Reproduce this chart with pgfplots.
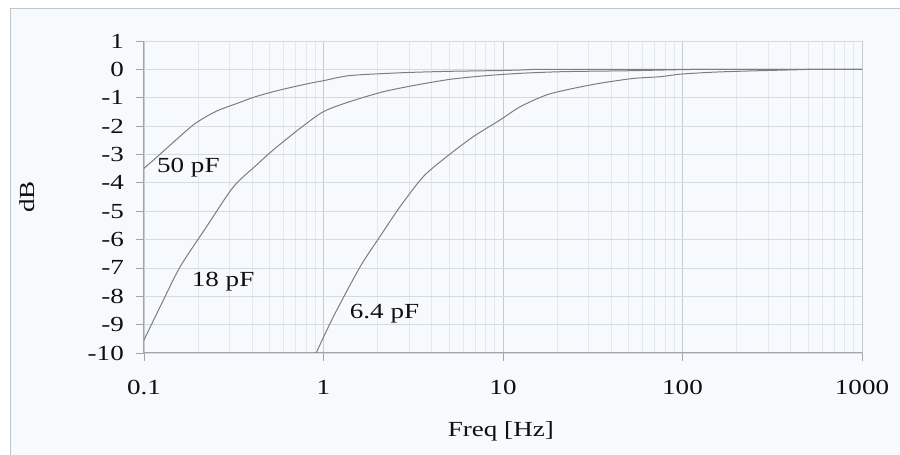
\documentclass[border=0pt]{standalone}
\usepackage{pgfplots}
\pgfplotsset{compat=1.18}
\usepackage{fontspec}
\setmainfont{Liberation Serif}[FakeStretch=1.26]
\definecolor{bg}{RGB}{247,250,253}
\definecolor{framec}{RGB}{192,197,202}
\definecolor{axisgray}{RGB}{160,166,172}
\definecolor{majgrid}{RGB}{212,218,225}
\definecolor{decgrid}{RGB}{196,203,210}
\definecolor{mingrid}{RGB}{226,232,238}
\definecolor{curve}{RGB}{125,125,125}
\definecolor{txt}{RGB}{15,15,15}
\begin{document}
\begin{tikzpicture}[x=1bp,y=1bp]
\useasboundingbox (0,0) rectangle (900,455);
\fill[bg] (10,0) rectangle (905,446);
\draw[framec, line width=1bp] (10,-5) -- (10,446) -- (905,446);
\begin{axis}[
  at={(144bp,102bp)}, anchor=south west,
  scale only axis, width=718bp, height=312bp,
  xmode=log, log basis x=10,
  xmin=0.1, xmax=1000, ymin=-10, ymax=1,
  xtick={0.1,1,10,100,1000},
  xticklabels={0.1,1,10,100,1000},
  minor xtick={0.2,0.3,0.4,0.5,0.6,0.7,0.8,0.9,2,3,4,5,6,7,8,9,20,30,40,50,60,70,80,90,200,300,400,500,600,700,800,900},
  ytick={-10,-9,-8,-7,-6,-5,-4,-3,-2,-1,0,1},
  yticklabels={-10,-9,-8,-7,-6,-5,-4,-3,-2,-1,0,1},
  axis x line*=bottom, axis y line*=left,
  axis line style={draw=axisgray, line width=1bp, -},
  tick style={draw=axisgray, line width=0.8bp},
  tick align=outside,
  major tick length=8bp, minor tick length=0bp,
  grid=both,
  major grid style={draw=majgrid, line width=0.8bp},
  minor grid style={draw=mingrid, line width=0.8bp},
  major x grid style={draw=decgrid, line width=0.8bp},
  ticklabel style={font=\fontsize{21.5bp}{25bp}\selectfont, text=txt},
  xticklabel style={anchor=north, inner sep=0pt, yshift=-19bp},
  yticklabel style={anchor=east, inner sep=0pt, xshift=-12bp},
  xlabel={Freq [Hz]}, ylabel={dB},
  label style={font=\fontsize{21.5bp}{25bp}\selectfont, text=txt},
  xlabel style={at={(axis description cs:0.497,-0.25)}, anchor=center},
  ylabel style={at={(axis description cs:-0.163,0.5)}, anchor=center},
  clip=true,
]
\addplot[curve, line width=1bp, smooth, tension=0.45] coordinates {
(0.1,-3.49) (0.12,-3.05) (0.14,-2.67) (0.19,-1.94) (0.25,-1.49) (0.33,-1.20)
(0.42,-0.96) (0.57,-0.73) (0.84,-0.49) (1.0,-0.40) (1.4,-0.22) (2.7,-0.12)
(5,-0.07) (10,-0.04) (13,-0.02) (20,0) (1000,0)};
\addplot[curve, line width=1bp, smooth, tension=0.45] coordinates {
(0.1,-9.54) (0.123,-8.37) (0.159,-6.96) (0.223,-5.55) (0.315,-4.14) (0.424,-3.37)
(0.525,-2.84) (0.74,-2.08) (1.0,-1.49) (1.4,-1.14) (2.15,-0.79) (3.3,-0.55)
(5.1,-0.35) (7.8,-0.23) (12.5,-0.14) (22,-0.08) (49,-0.05) (100,-0.01) (150,0) (1000,0)};
\addplot[curve, line width=1bp, smooth, tension=0.45] coordinates {
(0.91,-10) (1.135,-8.72) (1.6,-6.96) (2.06,-5.90) (2.67,-4.84) (3.6,-3.78)
(4.85,-3.08) (6.84,-2.37) (9.6,-1.79) (12.45,-1.32) (17.5,-0.90) (24.7,-0.67)
(34.7,-0.49) (53.2,-0.32) (75,-0.26) (97,-0.17) (148,-0.10) (227,-0.06)
(400,-0.02) (550,0) (1000,0)};
\node[anchor=base west, inner sep=0pt, text=txt, font=\fontsize{21.5bp}{25bp}\selectfont] at (axis cs:0.118,-3.62) {50 pF};
\node[anchor=base west, inner sep=0pt, text=txt, font=\fontsize{21.5bp}{25bp}\selectfont] at (axis cs:0.1843,-7.66) {18 pF};
\node[anchor=base west, inner sep=0pt, text=txt, font=\fontsize{21.5bp}{25bp}\selectfont] at (axis cs:1.40,-8.78) {6.4 pF};
\end{axis}
\end{tikzpicture}
\end{document}
